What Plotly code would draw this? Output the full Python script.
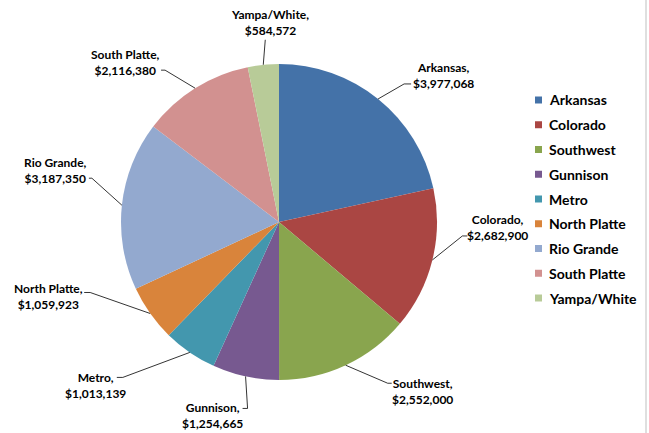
import math
import plotly.graph_objects as go

# ---- data ----
categories = ["Arkansas", "Colorado", "Southwest", "Gunnison", "Metro",
              "North Platte", "Rio Grande", "South Platte", "Yampa/White"]
values = [3977068, 2682900, 2552000, 1254665, 1013139,
          1059923, 3187350, 2116380, 584572]

# ---- style ----
colors = ["#4472A8", "#AA4643", "#89A54E", "#775990", "#4397AE",
          "#D9843B", "#93A9CF", "#D29190", "#B8CB98"]

W, H = 649, 433
CX, CY, R = 279, 222, 158  # pie centre / radius in px

# label centre offset (dx, dy) from the slice's edge point, px
label_off = [(65, -23), (65, -32), (77, 26), (-33, 39), (-94, 33),
             (-102, -17), (-66, -35), (-70, -26), (7, -42)]
# leader elbow and tail (relative to edge point), px
leader = [
    [(26, -15), (33, -15)],
    [(30, -24), (35, -24)],
    [(42, 18), (46, 18)],
    [(2, 32), (-3, 32)],
    [(-67, 25), (-73, 25)],
    [(-60, -21), (-66, -21)],
    [(-30, -27), (-33, -27)],
    [(-30, -18), (-34, -18)],
    [(2, -25), (2, -25)],
]

def px(x):
    return x / W

def py(y):
    return 1 - y / H

fig = go.Figure()
fig.add_trace(go.Pie(
    labels=categories, values=values, sort=False, direction="clockwise",
    rotation=0, marker=dict(colors=colors, line=dict(width=0)),
    textinfo="none", hoverinfo="label+value+percent", showlegend=False,
    domain=dict(x=[px(CX - R), px(CX + R)], y=[py(CY + R), py(CY - R)]),
))

total = sum(values)
cum = 0
annotations = []
shapes = []
for i, (cat, v) in enumerate(zip(categories, values)):
    mid = (cum + v / 2) / total * 2 * math.pi
    cum += v
    ex = CX + R * math.sin(mid)
    ey = CY - R * math.cos(mid)
    dx, dy = label_off[i]
    annotations.append(dict(
        x=px(ex + dx), y=py(ey + dy), xref="paper", yref="paper",
        text=f"<b>{cat},</b><br><b>${v:,}</b>", showarrow=False,
        xanchor="center", yanchor="middle", align="center",
        font=dict(family="Lato, Calibri, sans-serif", size=12, color="#000000"),
    ))
    (bx, by), (tx, ty) = leader[i]
    path = (f"M {px(ex)} {py(ey)} L {px(ex + bx)} {py(ey + by)} "
            f"L {px(ex + tx)} {py(ey + ty)}")
    shapes.append(dict(type="path", xref="paper", yref="paper", path=path,
                       line=dict(color="#000000", width=0.8)))

# manual legend
LEG_X, LEG_Y0, LEG_DY, SQ = 535, 100, 24.75, 7
for i, cat in enumerate(categories):
    yc = LEG_Y0 + i * LEG_DY
    shapes.append(dict(type="rect", xref="paper", yref="paper",
                       x0=px(LEG_X), x1=px(LEG_X + SQ),
                       y0=py(yc + SQ / 2), y1=py(yc - SQ / 2),
                       fillcolor=colors[i], line=dict(width=0)))
    annotations.append(dict(
        x=px(LEG_X + SQ + 5), y=py(yc), xref="paper", yref="paper",
        text=f"<b>{cat}</b>", showarrow=False, xanchor="left", yanchor="middle",
        font=dict(family="Lato, Calibri, sans-serif", size=14, color="#000000"),
    ))

# right chart border
shapes.append(dict(type="line", xref="paper", yref="paper",
                   x0=px(646), x1=px(646), y0=0, y1=1,
                   line=dict(color="#BFBFBF", width=1)))

fig.update_layout(
    width=W, height=H, margin=dict(l=0, r=0, t=0, b=0),
    paper_bgcolor="white", plot_bgcolor="white",
    annotations=annotations, shapes=shapes, showlegend=False,
)
fig.write_html("out.html",
               config={"displayModeBar": False},
               post_script="document.body.style.margin='0';"
                           "document.body.style.overflow='hidden';")
